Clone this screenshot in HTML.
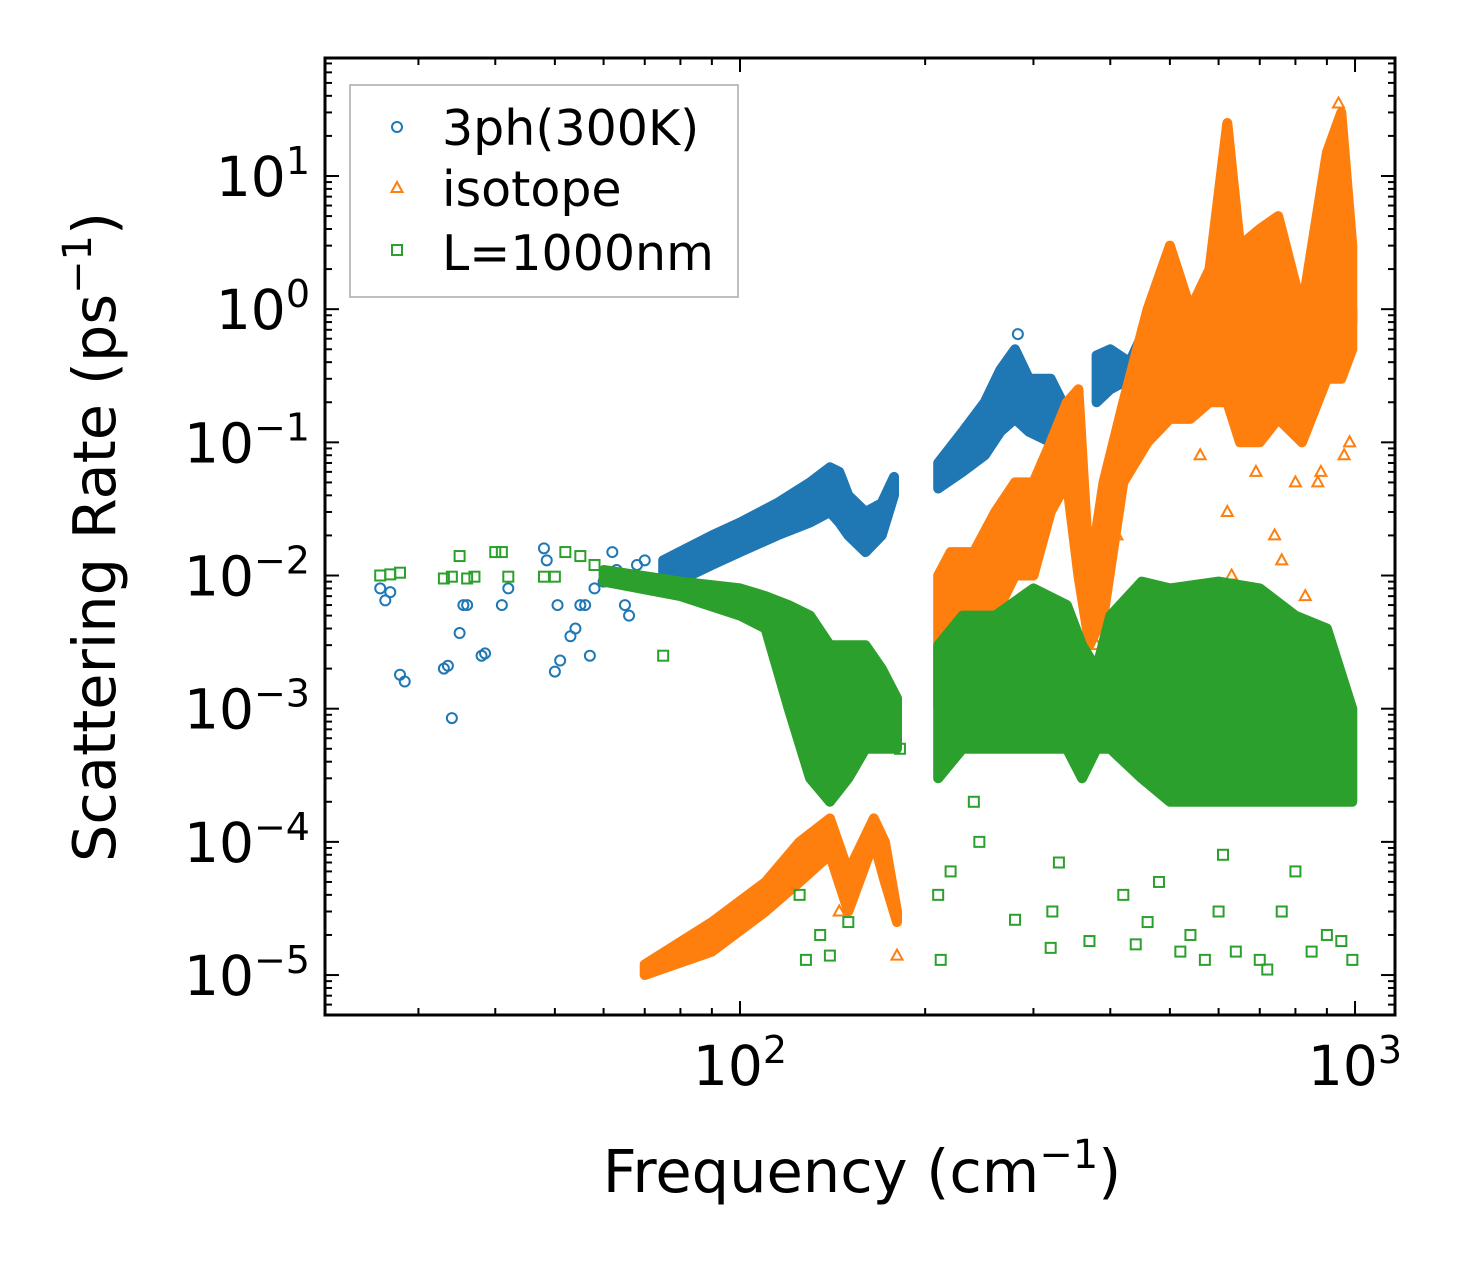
<!DOCTYPE html>
<html><head><meta charset="utf-8"><style>
body{margin:0;background:#fff}
svg text{font-family:"DejaVu Sans","Liberation Sans",sans-serif;fill:#000}
</style></head><body>
<svg id="chart" width="1459" height="1265" viewBox="0 0 1459 1265" xmlns="http://www.w3.org/2000/svg">
<g id="marks"></g>
<g id="axes"></g>
<rect x="325" y="58" width="1070" height="957" fill="none" stroke="#000" stroke-width="3"/>
<g>
<rect x="350" y="85" width="388" height="212" fill="#fff" stroke="#aaa" stroke-width="1.5"/>
<g><circle cx="397" cy="127" r="5" fill="none" stroke="#1f77b4" stroke-width="2"/><text x="442" y="145" font-size="49">3ph(300K)</text></g>
<g><polygon points="397,182 402.5,192 391.5,192" fill="none" stroke="#ff7f0e" stroke-width="2"/><text x="442" y="206" font-size="49">isotope</text></g>
<g><rect x="392" y="245" width="10" height="10" fill="none" stroke="#2ca02c" stroke-width="2"/><text x="442" y="270" font-size="49">L=1000nm</text></g>
</g>
<text x="862" y="1192" font-size="59" text-anchor="middle">Frequency (cm<tspan font-size="40" dy="-24">−1</tspan><tspan dy="24">)</tspan></text>
<text transform="translate(115,537) rotate(-90)" font-size="59" text-anchor="middle">Scattering Rate (ps<tspan font-size="40" dy="-24">−1</tspan><tspan dy="24">)</tspan></text>
</svg>
<script>
const NS="http://www.w3.org/2000/svg";
const X0=325,X1=1395,Y0=58,Y1=1015;
const xLogMin=1.3252,xLogMax=3.065,yLogMin=-5.30,yLogMax=1.886;
function sx(f){return X0+(Math.log10(f)-xLogMin)/(xLogMax-xLogMin)*(X1-X0);}
function sy(v){return Y1-(Math.log10(v)-yLogMin)/(yLogMax-yLogMin)*(Y1-Y0);}
const xTickExps=[2,3];
const yTickExps=[1,0,-1,-2,-3,-4,-5];
const yTickLabels=["10^1","10^0","10^−1","10^−2","10^−3","10^−4","10^−5"];

// Dense bands: frequency, lower and upper rate
const blueBandF=[[75,90,100,115,130,140,145,150,160,170,178],[210,230,250,265,280,295,320,345,355],[380,400,430,480,520,600,700,800,900,990]];
const blueBandLo=[[0.008,0.012,0.015,0.02,0.025,0.03,0.025,0.02,0.015,0.02,0.04],[0.045,0.06,0.08,0.12,0.15,0.12,0.1,0.08,0.1],[0.2,0.25,0.3,0.3,0.3,0.3,0.3,0.3,0.5,0.8]];
const blueBandHi=[[0.013,0.02,0.025,0.035,0.05,0.065,0.06,0.04,0.03,0.035,0.055],[0.07,0.12,0.2,0.35,0.5,0.3,0.3,0.15,0.15],[0.45,0.5,0.4,1.2,0.8,1.3,1.0,1.0,1.0,1.0]];
const blueF=[26,26.5,27,28,28.5,33,33.5,34,35,35.5,36,38,38.5,41,42,48,48.5,50,50.5,51,53,54,55,56,57,58,60,62,63,65,66,68,70,72,283,480,600,950];
const blueV=[0.008,0.0065,0.0075,0.0018,0.0016,0.002,0.0021,0.00085,0.0037,0.006,0.006,0.0025,0.0026,0.006,0.008,0.016,0.013,0.0019,0.006,0.0023,0.0035,0.004,0.006,0.006,0.0025,0.008,0.009,0.015,0.011,0.006,0.005,0.012,0.013,0.009,0.65,1.6,1.4,1.2];

const orangeBandF=[[70,90,110,125,140,150,165,172,180],[210,220,240,260,280,300,320,340,355,370,390,420,460,500,540,580,620,650,700,750,820,900,950,990]];
const orangeBandLo=[[1e-5,1.5e-5,3e-5,5e-5,8e-5,3e-5,1e-4,5e-5,2.5e-5],[0.001,0.003,0.003,0.005,0.01,0.01,0.03,0.05,0.01,0.003,0.005,0.05,0.1,0.15,0.15,0.2,0.2,0.1,0.1,0.15,0.1,0.3,0.3,0.5]];
const orangeBandHi=[[1.2e-5,2.5e-5,5e-5,1e-4,1.5e-4,6e-5,1.5e-4,1e-4,3e-5],[0.01,0.015,0.015,0.03,0.05,0.05,0.1,0.2,0.25,0.01,0.05,0.2,1,3,1,2,25,3,4,5,1,15,30,3]];
const orangeF=[145,180,360,380,410,560,620,630,690,720,740,760,800,830,870,880,940,960,980];
const orangeV=[3e-5,1.4e-5,0.012,0.003,0.02,0.08,0.03,0.01,0.06,0.15,0.02,0.013,0.05,0.007,0.05,0.06,35,0.08,0.1];

const greenBandF=[[60,80,100,110,120,130,140,150,160,170,180],[210,230,260,300,340,360,380,400,450,500,600,700,800,900,990]];
const greenBandLo=[[0.009,0.007,0.005,0.004,0.001,0.0003,0.0002,0.0003,0.0005,0.0005,0.0005],[0.0003,0.0005,0.0005,0.0005,0.0005,0.0003,0.0005,0.0005,0.0003,0.0002,0.0002,0.0002,0.0002,0.0002,0.0002]];
const greenBandHi=[[0.011,0.009,0.008,0.007,0.006,0.005,0.003,0.003,0.003,0.002,0.0012],[0.003,0.005,0.005,0.008,0.006,0.003,0.002,0.005,0.009,0.008,0.009,0.008,0.005,0.004,0.001]];
const greenF=[26,27,28,33,34,35,36,37,40,41,42,48,50,52,55,58,75,125,128,135,140,150,182,210,212,220,240,245,280,320,322,330,370,420,440,460,480,520,540,570,600,610,640,700,720,760,800,850,900,950,990];
const greenV=[0.01,0.0102,0.0105,0.0095,0.0098,0.014,0.0095,0.0098,0.015,0.015,0.0098,0.0098,0.0098,0.015,0.014,0.012,0.0025,4e-5,1.3e-5,2e-5,1.4e-5,2.5e-5,5e-4,4e-5,1.3e-5,6e-5,2e-4,1e-4,2.6e-5,1.6e-5,3e-5,7e-5,1.8e-5,4e-5,1.7e-5,2.5e-5,5e-5,1.5e-5,2e-5,1.3e-5,3e-5,8e-5,1.5e-5,1.3e-5,1.1e-5,3e-5,6e-5,1.5e-5,2e-5,1.8e-5,1.3e-5];

const marks=document.getElementById('marks');
function band(F,Lo,Hi,color,name){
  for(let s=0;s<F.length;s++){
    let pts=[];
    for(let i=0;i<F[s].length;i++)pts.push(sx(F[s][i]).toFixed(1)+","+sy(Hi[s][i]).toFixed(1));
    for(let i=F[s].length-1;i>=0;i--)pts.push(sx(F[s][i]).toFixed(1)+","+sy(Lo[s][i]).toFixed(1));
    const p=document.createElementNS(NS,'polygon');
    p.setAttribute('points',pts.join(' '));
    p.setAttribute('fill',color);p.setAttribute('stroke',color);p.setAttribute('stroke-width','10');p.setAttribute('stroke-linejoin','round');
    
    
    marks.appendChild(p);
  }
}
function pts(F,V,color,shape,name){
  for(let i=0;i<F.length;i++){
    const x=sx(F[i]),y=sy(V[i]);let e;
    if(shape==='c'){e=document.createElementNS(NS,'circle');e.setAttribute('cx',x);e.setAttribute('cy',y);e.setAttribute('r',5);}
    else if(shape==='t'){e=document.createElementNS(NS,'polygon');e.setAttribute('points',`${x},${y-6} ${x+5.5},${y+4} ${x-5.5},${y+4}`);}
    else{e=document.createElementNS(NS,'rect');e.setAttribute('x',x-5);e.setAttribute('y',y-5);e.setAttribute('width',10);e.setAttribute('height',10);}
    e.setAttribute('fill','none');e.setAttribute('stroke',color);e.setAttribute('stroke-width','2');
    
    
    marks.appendChild(e);
  }
}
band(blueBandF,blueBandLo,blueBandHi,'#1f77b4','3ph-band');
pts(blueF,blueV,'#1f77b4','c','3ph-point');
band(orangeBandF,orangeBandLo,orangeBandHi,'#ff7f0e','isotope-band');
pts(orangeF,orangeV,'#ff7f0e','t','isotope-point');
band(greenBandF,greenBandLo,greenBandHi,'#2ca02c','l1000nm-band');
pts(greenF,greenV,'#2ca02c','s','l1000nm-point');

const axes=document.getElementById('axes');
function line(x1,y1,x2,y2,w,name){const l=document.createElementNS(NS,'line');l.setAttribute('x1',x1);l.setAttribute('y1',y1);l.setAttribute('x2',x2);l.setAttribute('y2',y2);l.setAttribute('stroke','#000');l.setAttribute('stroke-width',w);


axes.appendChild(l);}
for(let d=1;d<=3;d++)for(let m=1;m<10;m++){
  const f=m*Math.pow(10,d);const lf=Math.log10(f);if(lf<xLogMin||lf>xLogMax)continue;
  const x=sx(f),L=m===1?14:7;line(x,Y1,x,Y1-L,2,'x-tick');line(x,Y0,x,Y0+L,2,'x-tick-top');
}
xTickExps.forEach(e=>{const t=document.createElementNS(NS,'text');t.setAttribute('x',sx(Math.pow(10,e)));t.setAttribute('y',1085);t.setAttribute('font-size','55');t.setAttribute('text-anchor','middle');
t.innerHTML=`10<tspan font-size="38" dy="-22">${e}</tspan>`;


axes.appendChild(t);});
for(let d=-6;d<=1;d++)for(let m=1;m<10;m++){
  const v=m*Math.pow(10,d);const lv=Math.log10(v);if(lv<yLogMin||lv>yLogMax)continue;
  const y=sy(v),L=m===1?14:7;line(X0,y,X0+L,y,2,'y-tick');line(X1,y,X1-L,y,2,'y-tick-right');
}
yTickExps.forEach((e,i)=>{const t=document.createElementNS(NS,'text');t.setAttribute('x',310);t.setAttribute('y',sy(Math.pow(10,e))+20);t.setAttribute('font-size','55');t.setAttribute('text-anchor','end');
const parts=yTickLabels[i].split('^');
t.innerHTML=`${parts[0]}<tspan font-size="38" dy="-22">${parts[1]}</tspan>`;


axes.appendChild(t);});
</script>
</body></html>
